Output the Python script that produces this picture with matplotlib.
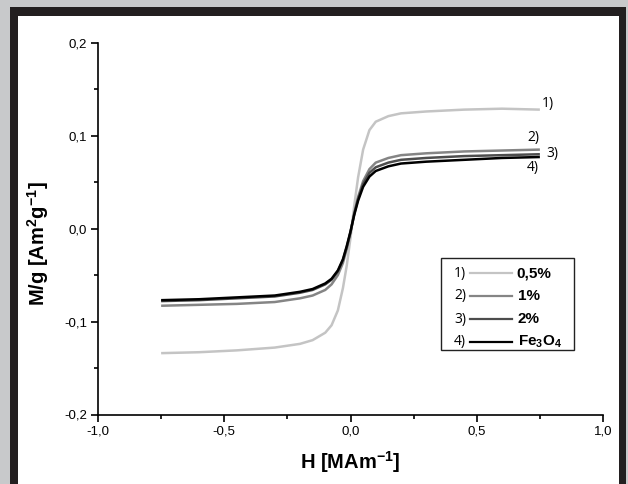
import matplotlib
matplotlib.use("Agg")
import matplotlib.pyplot as plt
from matplotlib.patches import Rectangle
from matplotlib.lines import Line2D
from matplotlib.ticker import MultipleLocator, FuncFormatter

plt.rcParams["font.family"] = ["Liberation Sans", "DejaVu Sans"]
plt.rcParams["mathtext.fontset"] = "custom"
plt.rcParams["mathtext.rm"] = "Liberation Sans"
plt.rcParams["mathtext.it"] = "Liberation Sans:italic"
plt.rcParams["mathtext.bf"] = "Liberation Sans:bold"

# ---- data ----
H = [-0.75, -0.6, -0.45, -0.3, -0.2, -0.15, -0.1, -0.075, -0.05, -0.03, -0.015,
     0.0, 0.015, 0.03, 0.05, 0.075, 0.1, 0.15, 0.2, 0.3, 0.45, 0.6, 0.75]
m_05 = [-0.134, -0.133, -0.131, -0.128, -0.124, -0.120, -0.112, -0.104, -0.088, -0.064, -0.040,
        -0.010, 0.025, 0.055, 0.085, 0.106, 0.115, 0.121, 0.124, 0.126, 0.128, 0.129, 0.128]
m_1 = [-0.083, -0.082, -0.081, -0.079, -0.075, -0.072, -0.066, -0.060, -0.050, -0.037, -0.022,
       -0.004, 0.017, 0.034, 0.051, 0.064, 0.071, 0.076, 0.079, 0.081, 0.083, 0.084, 0.085]
m_2 = [-0.078, -0.077, -0.075, -0.073, -0.069, -0.066, -0.060, -0.055, -0.046, -0.034, -0.020,
       -0.004, 0.016, 0.032, 0.048, 0.060, 0.066, 0.071, 0.074, 0.076, 0.078, 0.079, 0.080]
m_fe = [-0.077, -0.076, -0.074, -0.072, -0.068, -0.065, -0.059, -0.054, -0.045, -0.033, -0.019,
        -0.003, 0.015, 0.030, 0.045, 0.056, 0.062, 0.067, 0.070, 0.072, 0.074, 0.076, 0.077]

series = [m_05, m_1, m_2, m_fe]
numbers = ["1)", "2)", "3)", "4)"]
names = ["0,5%", "1%", "2%", "Fe$_\\mathbf{3}$O$_\\mathbf{4}$"]
colors = ["#c4c4c4", "#858585", "#4d4d4d", "#000000"]

xticks = [-1.0, -0.5, 0.0, 0.5, 1.0]
yticks = [-0.2, -0.1, 0.0, 0.1, 0.2]

W, Hpx = 628, 484
fig = plt.figure(figsize=(W / 100, Hpx / 100), dpi=100)
fig.patch.set_facecolor("#c8c9cb")

# black frame and white panel
fig.add_artist(Rectangle((10 / W, 0), (626 - 10) / W, (Hpx - 7) / Hpx,
                         transform=fig.transFigure, facecolor="#231f20", edgecolor="none", zorder=0))
fig.add_artist(Rectangle((18 / W, 0), (619 - 18) / W, (Hpx - 16) / Hpx,
                         transform=fig.transFigure, facecolor="white", edgecolor="none", zorder=0))

left, right = 98, 603
top, bottom = 42.7, 414.5
ax = fig.add_axes([left / W, 1 - bottom / Hpx, (right - left) / W, (bottom - top) / Hpx])
ax.set_facecolor("none")

for m, c in zip(series, colors):
    ax.plot(H, m, color=c, lw=1.8, solid_capstyle="butt")

ax.set_xlim(-1.0, 1.0)
ax.set_ylim(-0.2, 0.2)
ax.set_xticks(xticks)
ax.set_yticks(yticks)
ax.xaxis.set_minor_locator(MultipleLocator(0.25))
ax.yaxis.set_minor_locator(MultipleLocator(0.05))
fmt = FuncFormatter(lambda v, p: f"{v:.1f}".replace(".", ","))
ax.xaxis.set_major_formatter(fmt)
ax.yaxis.set_major_formatter(fmt)

for s in ["top", "right"]:
    ax.spines[s].set_visible(False)
for s in ["left", "bottom"]:
    ax.spines[s].set_linewidth(1.2)
ax.tick_params(which="major", direction="out", length=5, width=1.2, labelsize=9.5, pad=3)
ax.tick_params(which="minor", direction="out", length=3, width=1.2)

ax.set_xlabel("H [MAm$^\\mathbf{-1}$]", fontsize=14.5, fontweight="bold", labelpad=8)
ax.set_ylabel("M/g [Am$^\\mathbf{2}$g$^\\mathbf{-1}$]", fontsize=14.5, fontweight="bold")
ax.yaxis.set_label_coords(-0.094, 0.46)

def ax_xy(px, py):
    return (px - left) / (right - left), (bottom - py) / (bottom - top)

# curve labels
curve_lbl_pos = [(548, 103), (533, 138), (552, 153), (533, 168)]
for t, (px, py) in zip(numbers, curve_lbl_pos):
    ax.text(*ax_xy(px, py), t, transform=ax.transAxes, ha="center", va="center",
            fontsize=10, fontfamily="Open Sans")

# legend box drawn manually
x0, y0 = ax_xy(441, 350)
x1, y1 = ax_xy(574, 258)
ax.add_patch(Rectangle((x0, y0), x1 - x0, y1 - y0, transform=ax.transAxes,
                       facecolor="white", edgecolor="#222222", lw=1.0))
rows = [273, 296, 319, 342]
for t, name, c, py in zip(numbers, names, colors, rows):
    tx, ty = ax_xy(460, py)
    ax.text(tx, ty, t, transform=ax.transAxes, ha="center", va="center",
            fontsize=10, fontfamily="Open Sans")
    lx0, _ = ax_xy(470, py)
    lx1, _ = ax_xy(512, py)
    ax.add_line(Line2D([lx0, lx1], [ty, ty], transform=ax.transAxes, color=c, lw=1.6))
    nx, _ = ax_xy(518 if name != "0,5%" else 516, py)
    ax.text(nx, ty, name, transform=ax.transAxes, ha="left", va="center",
            fontsize=11, fontweight="bold")

fig.savefig("out.png", dpi=100, facecolor=fig.get_facecolor())
